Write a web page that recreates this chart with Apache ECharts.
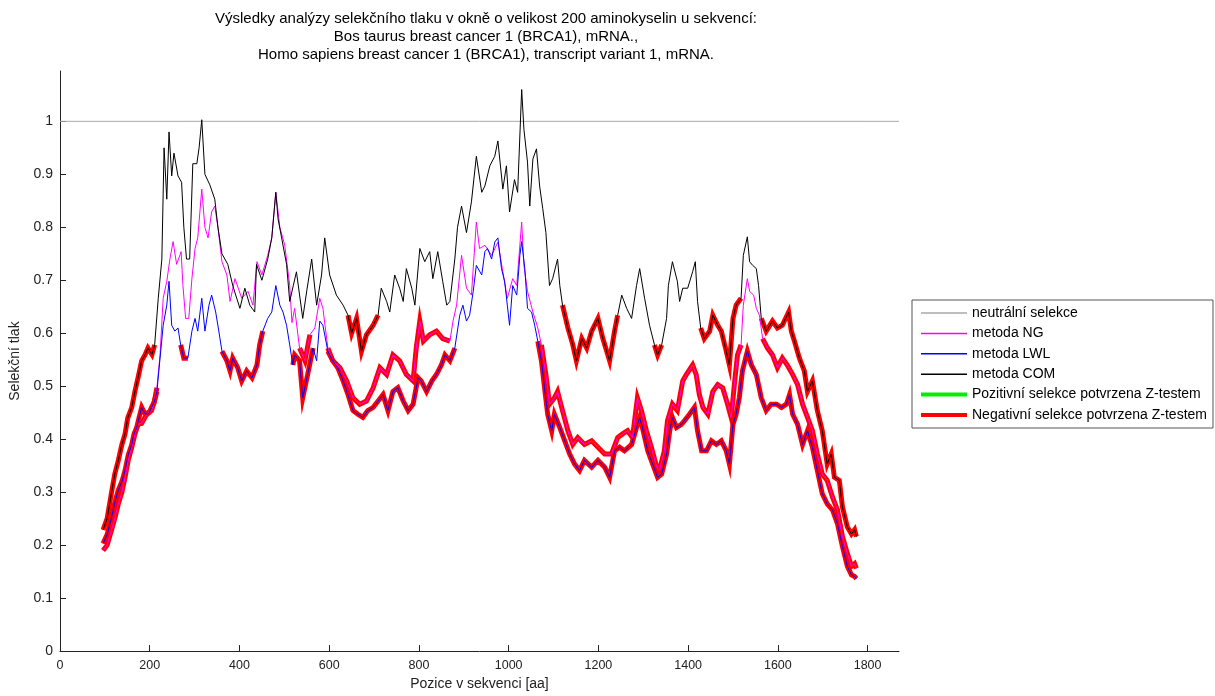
<!DOCTYPE html>
<html>
<head>
<meta charset="utf-8">
<script src="https://cdn.jsdelivr.net/npm/echarts@6/dist/echarts.min.js"></script>
<style>
  html, body { margin: 0; padding: 0; background: #fff; }
  #chart { width: 1215px; height: 696px; }
</style>
</head>
<body>
<div id="chart"></div>
<script>
// Tick values of both axes
const xTicks = [0, 200, 400, 600, 800, 1000, 1200, 1400, 1600, 1800];
const yTicks = [0, 0.1, 0.2, 0.3, 0.4, 0.5, 0.6, 0.7, 0.8, 0.9, 1];

// Neutral selection level
const neutralLevel = 1;

// Selection pressure per position [aa, value] - method COM
const comData = [[96,0.229],[105,0.25],[115,0.3],[122,0.334],[130,0.36],[138,0.39],[145,0.41],[151,0.44],[160,0.46],[167,0.49],[175,0.52],[182,0.548],[190,0.56],[196,0.572],[205,0.56],[211,0.578],[219,0.666],[227,0.74],[232,0.95],[238,0.853],[243,0.98],[249,0.897],[254,0.94],[263,0.897],[271,0.885],[276,0.80],[282,0.74],[289,0.74],[296,0.92],[305,0.92],[310,0.95],[316,1.003],[323,0.90],[334,0.88],[345,0.853],[352,0.80],[361,0.75],[374,0.73],[385,0.69],[401,0.647],[412,0.685],[423,0.653],[434,0.64],[438,0.73],[450,0.70],[463,0.74],[472,0.78],[481,0.866],[486,0.816],[494,0.78],[505,0.73],[512,0.66],[520,0.69],[527,0.716],[541,0.628],[550,0.68],[561,0.74],[572,0.653],[583,0.71],[590,0.78],[601,0.71],[616,0.672],[631,0.653],[642,0.634],[650,0.6],[661,0.628],[672,0.566],[683,0.597],[698,0.615],[709,0.634],[716,0.685],[728,0.66],[735,0.64],[746,0.71],[757,0.685],[765,0.66],[772,0.722],[784,0.685],[791,0.653],[802,0.76],[813,0.735],[824,0.754],[831,0.703],[842,0.754],[853,0.698],[862,0.653],[869,0.66],[880,0.74],[886,0.80],[895,0.84],[906,0.79],[917,0.848],[928,0.934],[940,0.866],[947,0.878],[958,0.916],[969,0.934],[976,0.963],[987,0.872],[995,0.916],[1002,0.829],[1013,0.89],[1020,0.866],[1029,1.06],[1034,0.985],[1042,0.923],[1047,0.84],[1054,0.929],[1062,0.948],[1069,0.878],[1076,0.835],[1083,0.79],[1091,0.69],[1098,0.703],[1109,0.74],[1114,0.69],[1120,0.653],[1132,0.61],[1143,0.578],[1151,0.548],[1163,0.59],[1174,0.572],[1185,0.604],[1199,0.628],[1210,0.59],[1225,0.548],[1236,0.604],[1243,0.634],[1252,0.672],[1263,0.647],[1274,0.628],[1285,0.69],[1292,0.722],[1303,0.666],[1314,0.615],[1325,0.578],[1332,0.559],[1341,0.578],[1352,0.628],[1356,0.69],[1365,0.735],[1376,0.698],[1381,0.66],[1388,0.685],[1399,0.685],[1410,0.716],[1416,0.735],[1421,0.66],[1428,0.61],[1436,0.59],[1448,0.604],[1455,0.634],[1466,0.615],[1474,0.604],[1485,0.566],[1492,0.54],[1500,0.628],[1507,0.653],[1518,0.666],[1523,0.747],[1532,0.782],[1537,0.735],[1544,0.728],[1552,0.722],[1557,0.69],[1563,0.628],[1574,0.604],[1588,0.623],[1599,0.61],[1610,0.615],[1624,0.64],[1630,0.604],[1637,0.585],[1648,0.553],[1659,0.529],[1666,0.49],[1677,0.51],[1688,0.454],[1699,0.416],[1710,0.353],[1719,0.372],[1726,0.328],[1737,0.322],[1744,0.272],[1755,0.234],[1764,0.221],[1771,0.229],[1775,0.216]];

// Method NG
const ngData = [[96,0.19],[105,0.2],[115,0.229],[122,0.25],[130,0.278],[138,0.3],[145,0.328],[152,0.36],[160,0.385],[167,0.41],[174,0.428],[182,0.43],[189,0.441],[196,0.45],[204,0.454],[210,0.47],[216,0.497],[223,0.559],[230,0.666],[238,0.698],[245,0.74],[252,0.773],[260,0.73],[270,0.754],[274,0.69],[280,0.628],[287,0.628],[294,0.703],[301,0.76],[307,0.78],[316,0.872],[323,0.80],[330,0.78],[338,0.829],[345,0.84],[352,0.80],[361,0.735],[372,0.71],[379,0.66],[390,0.703],[405,0.666],[419,0.679],[430,0.653],[439,0.735],[450,0.71],[463,0.747],[472,0.78],[481,0.866],[490,0.80],[501,0.766],[512,0.69],[517,0.62],[523,0.647],[534,0.572],[546,0.548],[557,0.597],[568,0.61],[579,0.666],[586,0.647],[597,0.572],[608,0.548],[624,0.535],[639,0.51],[653,0.478],[668,0.466],[683,0.472],[698,0.497],[713,0.535],[728,0.522],[742,0.559],[757,0.548],[772,0.522],[787,0.51],[794,0.572],[802,0.623],[810,0.585],[824,0.597],[839,0.604],[853,0.59],[869,0.585],[876,0.623],[884,0.653],[895,0.747],[906,0.685],[917,0.672],[928,0.81],[935,0.76],[947,0.766],[962,0.747],[976,0.772],[987,0.716],[997,0.666],[1009,0.703],[1018,0.69],[1029,0.81],[1034,0.728],[1042,0.679],[1054,0.64],[1065,0.61],[1073,0.578],[1084,0.516],[1091,0.466],[1102,0.478],[1109,0.49],[1120,0.454],[1132,0.416],[1143,0.39],[1154,0.403],[1169,0.39],[1185,0.397],[1199,0.385],[1214,0.372],[1229,0.372],[1243,0.403],[1254,0.41],[1265,0.416],[1276,0.403],[1287,0.478],[1296,0.454],[1307,0.416],[1318,0.385],[1330,0.347],[1336,0.341],[1347,0.378],[1354,0.435],[1365,0.466],[1376,0.454],[1388,0.51],[1396,0.522],[1410,0.54],[1418,0.522],[1425,0.484],[1433,0.46],[1444,0.447],[1455,0.49],[1466,0.503],[1477,0.497],[1488,0.466],[1496,0.441],[1503,0.503],[1510,0.559],[1518,0.578],[1523,0.653],[1532,0.703],[1537,0.679],[1546,0.672],[1552,0.647],[1559,0.634],[1566,0.59],[1577,0.572],[1588,0.559],[1599,0.535],[1610,0.553],[1621,0.54],[1633,0.522],[1644,0.503],[1655,0.466],[1666,0.441],[1677,0.416],[1688,0.372],[1699,0.334],[1710,0.322],[1722,0.29],[1733,0.266],[1744,0.216],[1755,0.184],[1764,0.16],[1771,0.165],[1775,0.156]];

// Method LWL
const lwlData = [[96,0.203],[105,0.22],[115,0.253],[122,0.28],[130,0.304],[138,0.32],[145,0.341],[152,0.37],[160,0.39],[165,0.41],[171,0.422],[176,0.44],[182,0.46],[188,0.45],[194,0.447],[199,0.45],[204,0.46],[210,0.47],[216,0.49],[223,0.553],[230,0.615],[238,0.653],[243,0.698],[249,0.615],[256,0.604],[263,0.61],[269,0.578],[276,0.553],[285,0.553],[294,0.604],[301,0.628],[307,0.604],[316,0.666],[323,0.604],[332,0.653],[338,0.672],[347,0.64],[354,0.604],[361,0.566],[372,0.548],[379,0.529],[385,0.553],[396,0.535],[405,0.51],[416,0.529],[428,0.516],[439,0.54],[445,0.578],[452,0.604],[463,0.628],[472,0.64],[481,0.69],[490,0.653],[497,0.64],[505,0.615],[512,0.578],[519,0.54],[523,0.559],[534,0.548],[541,0.478],[552,0.522],[564,0.572],[572,0.548],[579,0.623],[586,0.615],[597,0.566],[608,0.548],[619,0.535],[631,0.51],[642,0.484],[653,0.454],[664,0.447],[675,0.441],[686,0.454],[698,0.46],[709,0.472],[720,0.484],[731,0.454],[742,0.49],[753,0.497],[765,0.472],[776,0.454],[787,0.466],[798,0.516],[805,0.51],[817,0.49],[829,0.51],[839,0.522],[850,0.54],[858,0.559],[869,0.548],[880,0.572],[891,0.634],[898,0.653],[906,0.623],[913,0.634],[921,0.679],[928,0.728],[940,0.71],[947,0.754],[953,0.76],[962,0.74],[969,0.772],[976,0.78],[984,0.722],[991,0.698],[997,0.653],[1002,0.615],[1009,0.69],[1018,0.672],[1025,0.747],[1029,0.773],[1036,0.722],[1042,0.647],[1051,0.64],[1058,0.615],[1065,0.585],[1073,0.548],[1080,0.497],[1087,0.447],[1096,0.416],[1102,0.447],[1114,0.422],[1125,0.397],[1136,0.372],[1147,0.353],[1158,0.341],[1169,0.36],[1185,0.347],[1199,0.36],[1214,0.347],[1225,0.328],[1236,0.378],[1247,0.385],[1258,0.378],[1274,0.39],[1285,0.422],[1292,0.441],[1298,0.422],[1310,0.378],[1321,0.353],[1332,0.328],[1341,0.334],[1352,0.372],[1359,0.416],[1365,0.441],[1374,0.422],[1385,0.428],[1392,0.435],[1403,0.447],[1414,0.46],[1421,0.416],[1430,0.378],[1441,0.378],[1452,0.397],[1463,0.39],[1474,0.397],[1485,0.378],[1492,0.353],[1500,0.428],[1507,0.447],[1514,0.478],[1521,0.529],[1532,0.566],[1541,0.54],[1552,0.522],[1563,0.478],[1574,0.454],[1585,0.466],[1597,0.466],[1608,0.46],[1619,0.466],[1626,0.484],[1633,0.447],[1644,0.428],[1655,0.39],[1666,0.416],[1677,0.385],[1688,0.341],[1699,0.297],[1710,0.278],[1722,0.266],[1733,0.24],[1744,0.197],[1755,0.16],[1764,0.144],[1771,0.141],[1775,0.137]];

// Position ranges where negative selection is confirmed by the Z-test
const comNegRanges = [[96,211],[640,712],[1120,1243],[1325,1345],[1428,1518],[1563,1775]];
const ngNegRanges = [[96,218],[530,562],[595,872],[1070,1520],[1563,1775]];
const lwlNegRanges = [[96,218],[265,290],[358,452],[515,565],[595,880],[1065,1775]];
// Ranges of positive selection confirmed by the Z-test (none in these sequences)
const posRanges = [];

const FONT = '"Liberation Sans", Arial, Helvetica, sans-serif';
const NEG_NAME = 'Negativní selekce potvrzena Z-testem';
const POS_NAME = 'Pozitivní selekce potvrzena Z-testem';

// keep only the points that fall inside the given ranges, break the line elsewhere
function pick(data, ranges) {
  return data.map(p => ranges.some(r => p[0] >= r[0] && p[0] <= r[1]) ? p : [p[0], '-']);
}

function thinSeries(name, color, data) {
  return {
    name, type: 'line', data, color,
    symbol: 'none', showSymbol: false,
    lineStyle: { color, width: 1 },
    itemStyle: { color },
    z: 4, silent: true
  };
}
function thickSeries(name, color, data) {
  return {
    name, type: 'line', data, color,
    symbol: 'none', showSymbol: false, connectNulls: false,
    lineStyle: { color, width: 5, join: 'miter', cap: 'butt' },
    itemStyle: { color },
    z: 3, silent: true
  };
}

// legend samples: an invisible bounding box plus a horizontal bar
const thinIcon = 'path://M0,0M46,14M0,6.3h46v1.5h-46z';
const thickIcon = 'path://M0,0M46,14M0,5h46v4h-46z';

const chart = echarts.init(document.getElementById('chart'), null, { renderer: 'canvas' });
chart.setOption({
  animation: false,
  backgroundColor: '#fff',
  title: {
    text: 'Výsledky analýzy selekčního tlaku v okně o velikost 200 aminokyselin u sekvencí:\nBos taurus breast cancer 1 (BRCA1), mRNA.,\nHomo sapiens breast cancer 1 (BRCA1), transcript variant 1, mRNA.',
    left: 481, top: 5, textAlign: 'center',
    textStyle: { fontFamily: FONT, fontSize: 15, fontWeight: 'normal', color: '#000', lineHeight: 18 }
  },
  grid: { left: 60, top: 71, width: 839, height: 584, containLabel: false },
  legend: {
    orient: 'vertical', left: 912, top: 300,
    padding: [6, 6, 6, 9], itemGap: 6.4, itemWidth: 46, itemHeight: 16,
    backgroundColor: '#fff', borderColor: '#555', borderWidth: 1,
    selectedMode: false,
    itemStyle: { borderWidth: 0 },
    textStyle: { fontFamily: FONT, fontSize: 14, color: '#000' },
    data: [
      { name: 'neutrální selekce', icon: thinIcon },
      { name: 'metoda NG', icon: thinIcon },
      { name: 'metoda LWL', icon: thinIcon },
      { name: 'metoda COM', icon: thinIcon },
      { name: POS_NAME, icon: thickIcon },
      { name: NEG_NAME, icon: thickIcon }
    ]
  },
  xAxis: {
    type: 'value', min: 0, max: 1870,
    name: 'Pozice v sekvenci [aa]', nameLocation: 'middle', nameGap: 24,
    nameTextStyle: { fontFamily: FONT, fontSize: 14, color: '#222' },
    axisLine: { show: true, onZero: false, lineStyle: { color: '#222', width: 1 } },
    axisTick: { show: true, inside: true, length: 6, customValues: xTicks, lineStyle: { color: '#222' } },
    axisLabel: {
      customValues: xTicks, margin: 8, fontFamily: FONT, fontSize: 12.5, color: '#222',
      formatter: v => String(Math.round(v))
    },
    splitLine: { show: false }
  },
  yAxis: {
    type: 'value', min: 0, max: 1.095,
    name: 'Selekční tlak', nameLocation: 'middle', nameGap: 35, nameRotate: 90,
    nameTextStyle: { fontFamily: FONT, fontSize: 14, color: '#222' },
    axisLine: { show: true, onZero: false, lineStyle: { color: '#222', width: 1 } },
    axisTick: { show: true, inside: true, length: 6, customValues: yTicks, lineStyle: { color: '#222' } },
    axisLabel: {
      customValues: yTicks, margin: 7, fontFamily: FONT, fontSize: 14, color: '#222',
      formatter: v => String(Math.round(v * 10) / 10)
    },
    splitLine: { show: false }
  },
  series: [
    Object.assign(thinSeries('neutrální selekce', '#a9a9a9', [[0, neutralLevel], [1870, neutralLevel]]), { z: 2 }),
    thickSeries(NEG_NAME, '#ff0000', pick(ngData, ngNegRanges)),
    thickSeries(NEG_NAME, '#ff0000', pick(lwlData, lwlNegRanges)),
    thickSeries(NEG_NAME, '#ff0000', pick(comData, comNegRanges)),
    thickSeries(POS_NAME, '#00ee00', pick(comData, posRanges)),
    thinSeries('metoda NG', '#ff00ff', ngData),
    thinSeries('metoda LWL', '#0000ff', lwlData),
    thinSeries('metoda COM', '#000000', comData)
  ]
});
</script>
</body>
</html>
